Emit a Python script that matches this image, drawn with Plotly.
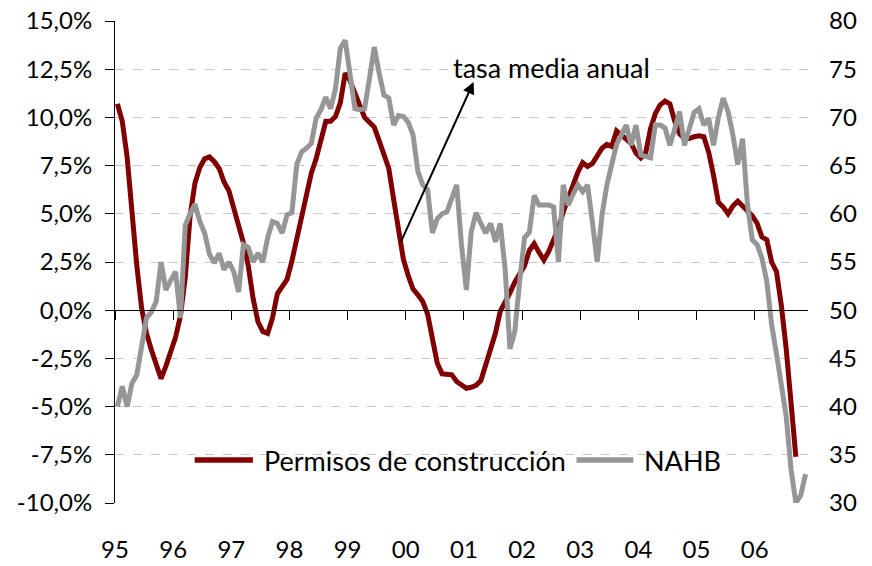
import plotly.graph_objects as go

# ---------------- data (monthly, Jan 1995 = index 0) ----------------
year_labels = ["95", "96", "97", "98", "99", "00", "01", "02", "03", "04", "05", "06"]
year_starts = [-0.5, 11.5, 23.5, 35.5, 47.5, 59.5, 71.5, 83.5, 95.5, 107.5, 119.5, 131.5]

permisos = [
    10.7, 9.8, 7.95, 5.05, 2.3, 0.1, -1.2, -2.05, -2.9, -3.55, -2.9, -2.2,
    -1.4, -0.3, 1.7, 4.9, 6.6, 7.4, 7.85, 7.95, 7.7, 7.35, 6.65, 6.2,
    5.35, 4.4, 3.5, 2.3, 0.6, -0.6, -1.1, -1.2, -0.4, 0.85, 1.2, 1.6,
    2.55, 3.7, 4.9, 6.05, 7.1, 7.85, 8.75, 9.8, 9.8, 10.05, 10.75, 12.3,
    11.9, 11.25, 10.6, 10.0, 9.75, 9.5, 8.8, 8.05, 7.35, 5.75, 4.05, 2.65,
    1.8, 1.1, 0.8, 0.45, -0.2, -1.45, -2.75, -3.3, -3.3, -3.35, -3.7, -3.9,
    -4.05, -4.0, -3.9, -3.65, -2.9, -2.05, -1.2, -0.05, 0.4, 0.9, 1.45, 1.9,
    2.3, 3.1, 3.45, 3.0, 2.6, 3.05, 3.65, 4.25, 5.1, 5.8, 6.45, 7.15,
    7.65, 7.45, 7.6, 7.95, 8.4, 8.6, 8.5, 9.3, 9.1, 8.85, 8.65, 8.15,
    7.9, 8.15, 9.4, 10.2, 10.65, 10.85, 10.7, 9.8, 9.15, 8.9, 8.9, 9.0,
    9.05, 9.0, 8.2, 7.0, 5.6, 5.35, 5.0, 5.4, 5.65, 5.4, 5.15, 4.9,
    4.5, 3.8, 3.65, 2.5, 2.0, 0.25, -2.0, -4.55, -7.6,
]

nahb = [
    40.0, 42.1, 40.0, 42.4, 43.3, 46.0, 49.2, 49.8, 50.9, 55.0, 52.1, 53.1,
    54.0, 49.2, 58.8, 60.0, 61.0, 59.2, 58.0, 55.8, 54.9, 55.9, 54.2, 55.0,
    54.0, 51.9, 56.8, 56.5, 55.0, 55.9, 55.0, 57.5, 59.2, 59.0, 58.0, 59.9,
    60.1, 65.1, 66.4, 66.8, 67.3, 69.9, 70.8, 72.1, 70.9, 73.0, 77.2, 78.0,
    74.5, 70.9, 70.8, 70.9, 74.0, 77.3, 74.6, 72.3, 72.0, 69.2, 70.2, 70.1,
    69.5, 68.2, 64.4, 63.0, 62.5, 58.0, 59.5, 60.0, 60.2, 61.8, 63.0, 56.8,
    52.1, 58.1, 60.1, 59.0, 58.0, 59.0, 57.1, 59.0, 54.3, 46.0, 47.8, 53.0,
    57.5, 58.1, 61.9, 60.9, 60.9, 60.9, 60.7, 55.0, 63.0, 60.9, 62.0, 63.0,
    62.3, 63.0, 59.2, 55.0, 59.9, 63.0, 65.1, 67.2, 68.2, 69.2, 67.1, 69.2,
    66.1, 65.9, 65.8, 69.2, 69.2, 68.9, 67.1, 68.8, 70.6, 67.1, 69.0, 70.5,
    70.9, 69.2, 69.9, 67.1, 70.0, 72.0, 70.6, 68.2, 65.1, 67.8, 61.0, 57.3,
    56.8, 55.4, 53.0, 48.5, 45.5, 42.0, 39.0, 33.5, 30.0, 30.8, 33.0,
]

months_p = list(range(len(permisos)))
months_n = list(range(len(nahb)))

left_ticks = [-10, -7.5, -5, -2.5, 0, 2.5, 5, 7.5, 10, 12.5, 15]
left_labels = ["-10,0%", "-7,5%", "-5,0%", "-2,5%", "0,0%", "2,5%", "5,0%",
               "7,5%", "10,0%", "12,5%", "15,0%"]
right_ticks = [30, 35, 40, 45, 50, 55, 60, 65, 70, 75, 80]

series_names = ["Permisos de construcción", "NAHB"]

annot_text = "tasa media anual"
arrow_head = (73.5, 11.84)
arrow_tail = (58.4, 3.49)
annot_pos = (89.6, 12.6)

# ---------------- styles ----------------
FONT = "Lato"
RED = "#800000"
GREY = "#969696"
GRID = "#c8c8c8"
LW = 5

fig = go.Figure()
fig.add_trace(go.Scatter(x=months_p, y=permisos, mode="lines", name=series_names[0],
                         line=dict(color=RED, width=LW), xaxis="x", yaxis="y",
                         showlegend=False))
fig.add_trace(go.Scatter(x=months_n, y=nahb, mode="lines", name=series_names[1],
                         line=dict(color=GREY, width=LW), xaxis="x", yaxis="y2",
                         showlegend=False))

xr = [-0.5, 142.5]
fig.update_layout(
    width=872, height=566,
    margin=dict(l=115, r=64, t=21, b=63, autoexpand=False),
    paper_bgcolor="white", plot_bgcolor="white",
    font=dict(family=FONT, size=24, color="black"),
    showlegend=False,
    xaxis=dict(range=xr, tickvals=year_starts, ticktext=year_labels, showgrid=False,
               zeroline=False, showline=False, ticks="", ticklabelstandoff=30,
               tickfont=dict(size=24), automargin=False, ticklabeloverflow="allow"),
    xaxis2=dict(range=xr, overlaying="x", anchor="free", position=0.4, side="bottom",
                tickvals=year_starts, showticklabels=False, showgrid=False, zeroline=False,
                showline=True, linecolor="black", linewidth=1, ticks="outside",
                ticklen=9, tickcolor="black", tickwidth=1, automargin=False),
    yaxis=dict(range=[-10, 15], tickvals=left_ticks, ticktext=left_labels,
               showgrid=True, gridcolor=GRID, griddash="dash", gridwidth=1,
               zeroline=False, showline=True, linecolor="black", linewidth=1,
               ticks="outside", ticklen=9, tickcolor="black", tickfont=dict(size=24),
               ticklabelstandoff=8, automargin=False, ticklabeloverflow="allow"),
    yaxis2=dict(range=[30, 80], tickvals=right_ticks, overlaying="y", side="right",
                showgrid=False, zeroline=False, showline=False, ticks="",
                ticklabelstandoff=20, tickfont=dict(size=24), automargin=False,
                ticklabeloverflow="allow"),
)
# invisible helper trace so the zero-line axis (xaxis2) is drawn
fig.add_trace(go.Scatter(x=[xr[0]], y=[0], mode="markers", marker=dict(opacity=0),
                         showlegend=False, hoverinfo="skip", xaxis="x2", yaxis="y"))

# white area behind legend (hides gridlines as in the original)
fig.add_shape(type="rect", xref="paper", yref="paper", x0=0.101, x1=0.873, y0=0.0, y1=0.224,
              fillcolor="white", line=dict(width=0), layer="between")

# legend (drawn as key lines + text)
LEG_Y = 0.089
for (x0, x1, xt), name, col in zip([(0.115, 0.199, 0.212), (0.666, 0.748, 0.7605)],
                                   series_names, [RED, GREY]):
    fig.add_shape(type="line", xref="paper", yref="paper", x0=x0, x1=x1, y0=LEG_Y, y1=LEG_Y,
                  line=dict(color=col, width=LW + 0.5), layer="above")
    fig.add_annotation(x=xt, y=LEG_Y, xref="paper", yref="paper", text=name, showarrow=False,
                       xanchor="left", yanchor="middle",
                       font=dict(size=27, family=FONT, color="black"))

fig.add_annotation(x=arrow_head[0], y=arrow_head[1], ax=arrow_tail[0], ay=arrow_tail[1],
                   xref="x", yref="y", axref="x", ayref="y", text="", showarrow=True,
                   arrowhead=2, arrowsize=1.2, arrowwidth=2, arrowcolor="black", standoff=0)
fig.add_annotation(x=annot_pos[0], y=annot_pos[1], xref="x", yref="y", text=annot_text,
                   showarrow=False, font=dict(size=27, family=FONT, color="black"))

fig.write_html("out.html", config={"displayModeBar": False},
               post_script="document.body.style.margin='0px';document.body.style.overflow='hidden';")
